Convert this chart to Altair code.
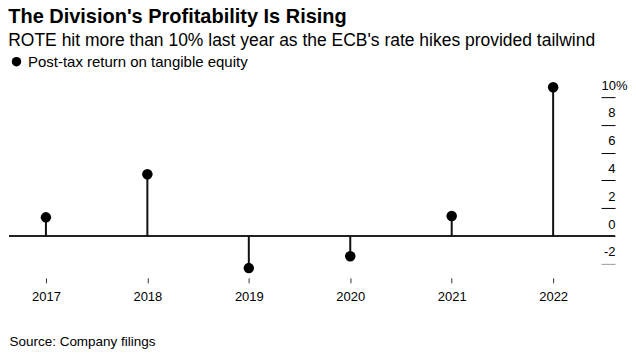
import altair as alt
import pandas as pd

years = [2017, 2018, 2019, 2020, 2021, 2022]
rote = [1.35, 4.45, -2.3, -1.45, 1.45, 10.7]
series_name = "Post-tax return on tangible equity"
y_ticks = [-2, 0, 2, 4, 6, 8, 10]

df = pd.DataFrame({"year": years, "rote": rote, "series": [series_name] * len(years)})

FONT = "Liberation Sans"

x_enc = alt.X(
    "year:Q",
    scale=alt.Scale(domain=[2016.636, 2022.61], nice=False, zero=False),
    axis=alt.Axis(
        values=years, format="d", domain=False, grid=False, tickCount=20,
        tickSize=5, tickColor="#333333", tickWidth=1,
        labelFontSize=13, labelColor="#000000", labelPadding=8, labelFont=FONT,
        title="Source: Company filings", titleAnchor="start", titleAlign="left",
        titleFontWeight="normal", titleFontSize=13.5, titleFont=FONT, titleColor="#000000",
        titlePadding=31,
    ),
)
y_scale = alt.Scale(domain=[-3.0, 11.5], nice=False, zero=False)

stems = alt.Chart(df).mark_rule(color="#111111", strokeWidth=2).encode(
    x=x_enc,
    y=alt.Y(
        "rote:Q", scale=y_scale,
        axis=alt.Axis(
            orient="right", values=y_ticks, tickCount=20, domain=False, grid=False, offset=-14,
            tickSize=14, tickWidth=1, labelOverlap=False, labelBound=False,
            tickColor={"condition": {"test": "datum.value < 0", "value": "#999999"}, "value": "#000000"},
            labelExpr="datum.value == 10 ? '10%' : '' + datum.value",
            labelAlign={"condition": {"test": "datum.value == 10", "value": "left"}, "value": "right"},
            labelPadding={"condition": {"test": "datum.value == 10", "value": -14}, "value": 0},
            labelBaseline="alphabetic", labelOffset=-8,
            labelFontSize=13, labelColor="#000000", labelFont=FONT, title=None,
        ),
    ),
    y2=alt.Y2(datum=0),
)

baseline = alt.Chart(df).mark_rule(color="#222222", strokeWidth=1.5).encode(
    y=alt.Y(datum=0, scale=y_scale)
)

points = alt.Chart(df).mark_circle(size=110, opacity=1).encode(
    x=alt.X("year:Q"),
    y=alt.Y("rote:Q"),
    color=alt.Color(
        "series:N",
        scale=alt.Scale(range=["#000000"]),
        legend=alt.Legend(
            orient="none", legendX=0, legendY=-22, title=None,
            symbolType="circle", symbolSize=90, symbolStrokeWidth=0,
            labelFontSize=15, labelFont=FONT, labelColor="#000000", labelOffset=4,
            labelLimit=0,
        ),
    ),
)

chart = (
    alt.layer(baseline, stems, points)
    .properties(
        width=607,
        height=202,
        padding={"left": 0, "top": -2, "right": 0, "bottom": 0},
        title=alt.TitleParams(
            text="The Division's Profitability Is Rising",
            subtitle="ROTE hit more than 10% last year as the ECB's rate hikes provided tailwind",
            anchor="start", font=FONT, fontSize=20, fontWeight="bold", color="#000000",
            subtitleFont=FONT, subtitleFontSize=17.5, subtitleColor="#000000",
            subtitlePadding=5, offset=5,
        ),
    )
    .configure_view(stroke=None)
)

chart.save("out.html", embed_options={"renderer": "svg", "actions": False})
